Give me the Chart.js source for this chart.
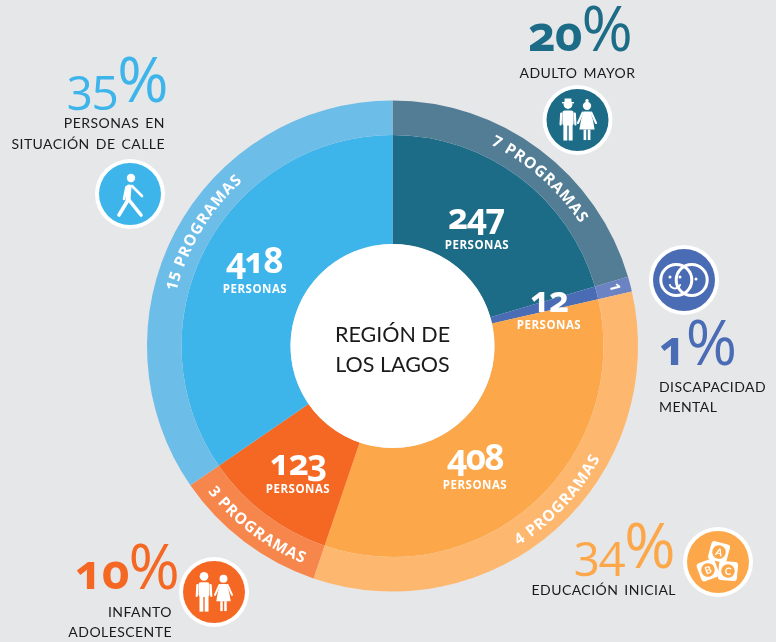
<!DOCTYPE html>
<html lang="es">
<head>
<meta charset="utf-8">
<title>Región de Los Lagos</title>
<script src="https://cdn.jsdelivr.net/npm/chart.js@4"></script>
<style>
  html, body { margin: 0; background: #e6e7e9; }
  #wrap { position: relative; width: 776px; height: 642px; overflow: hidden; }
  #chart, #labels { position: absolute; left: 0; top: 0; }
  #labels text { font-family: "Open Sans", sans-serif; font-variant-numeric: oldstyle-nums; font-feature-settings: "onum" 1; }
  #labels text.cap { font-family: Lato, sans-serif; word-spacing: 2px; }
  #labels text.title { font-family: Lato, sans-serif; }
  #labels text.lining { font-variant-numeric: lining-nums; font-feature-settings: "lnum" 1; }
</style>
</head>
<body>
<div id="wrap">
  <canvas id="chart" width="776" height="642"></canvas>
  <svg id="labels" width="776" height="642" xmlns="http://www.w3.org/2000/svg"></svg>
</div>
<script>
// Clockwise from 12 o'clock
const categories = ['Adulto mayor', 'Discapacidad mental', 'Educación inicial', 'Infanto adolescente', 'Personas en situación de calle'];
const persons = [247, 12, 408, 123, 418];
const programs = [7, 1, 4, 3, 15];
const percents = [20, 1, 34, 10, 35];
const innerColors = ['#1c6c87', '#4a6cb5', '#fca84a', '#f56824', '#3db4ea'];
const outerColors = ['#527d95', '#6b83c2', '#fdb76e', '#f6864b', '#6dbde9'];
const centerTitle = ['REGIÓN DE', 'LOS LAGOS'];

const SVG_NS = 'http://www.w3.org/2000/svg';
const svg = document.getElementById('labels');

function addText(str, x, y, opts) {
  const t = document.createElementNS(SVG_NS, 'text');
  t.setAttribute('x', x);
  t.setAttribute('y', y);
  t.setAttribute('text-anchor', opts.anchor || 'middle');
  t.setAttribute('fill', opts.color || '#1a1a1a');
  t.setAttribute('font-size', opts.size);
  t.setAttribute('font-weight', opts.weight || 400);
  if (opts.spacing) t.setAttribute('letter-spacing', opts.spacing);
  if (opts.cls) t.setAttribute('class', opts.cls);
  t.textContent = str;
  svg.appendChild(t);
  return t;
}

// number with an oversize thin percent sign after it
function addPercent(value, x, y, color, digitWeight) {
  const t = addText(String(value), x, y, {color, size: 48, weight: digitWeight, anchor: 'start', spacing: -1});
  const s = document.createElementNS(SVG_NS, 'tspan');
  s.setAttribute('font-size', 62);
  s.setAttribute('font-weight', 400);
  s.textContent = '%';
  t.appendChild(s);
}

// Arc path around the chart centre so the label follows the ring
function addCurved(str, cx, cy, r, midDeg, clockwise, id) {
  const half = 50 * Math.PI / 180;
  const mid = midDeg * Math.PI / 180;
  const a0 = clockwise ? mid - half : mid + half;
  const a1 = clockwise ? mid + half : mid - half;
  const pt = a => [cx + r * Math.sin(a), cy - r * Math.cos(a)];
  const p0 = pt(a0), p1 = pt(a1);
  const path = document.createElementNS(SVG_NS, 'path');
  path.setAttribute('id', id);
  path.setAttribute('fill', 'none');
  path.setAttribute('d', `M${p0[0]} ${p0[1]} A${r} ${r} 0 0 ${clockwise ? 1 : 0} ${p1[0]} ${p1[1]}`);
  svg.appendChild(path);
  const t = document.createElementNS(SVG_NS, 'text');
  t.setAttribute('class', 'lining');
  t.setAttribute('fill', '#fff');
  t.setAttribute('font-size', 15.5);
  t.setAttribute('font-weight', 700);
  t.setAttribute('letter-spacing', 0.9);
  t.setAttribute('text-anchor', 'middle');
  const tp = document.createElementNS(SVG_NS, 'textPath');
  tp.setAttribute('href', '#' + id);
  tp.setAttribute('startOffset', '50%');
  tp.textContent = str;
  t.appendChild(tp);
  svg.appendChild(t);
}

function buildLabels(cx, cy) {
  svg.innerHTML = '';
  addText(centerTitle[0], cx, 342, {size: 21.5, cls: 'title'});
  addText(centerTitle[1], cx, 372, {size: 21.5, cls: 'title'});

  const personPos = [[476, 229, 477, 249], [549, 312, 549, 329], [475, 470, 475, 489], [298, 475, 298, 493], [254, 273, 255, 293]];
  persons.forEach((v, i) => {
    const p = personPos[i];
    addText(String(v), p[0], p[1], {color: '#fff', size: 35, weight: 700, spacing: -1.5});
    addText('PERSONAS', p[2], p[3], {color: '#fff', size: 11.5, weight: 700, spacing: 0.5});
  });

  addCurved(`${programs[0]} PROGRAMAS`, cx, cy, 224, 41.5, true, 'c0');
  addCurved(`${programs[2]} PROGRAMAS`, cx, cy, 236, 133, false, 'c2');
  addCurved(`${programs[3]} PROGRAMAS`, cx, cy, 235, 217, false, 'c3');
  addCurved(`${programs[4]} PROGRAMAS`, cx, cy, 223, 301, true, 'c4');
  const one = addText(String(programs[1]), 615, 292, {color: '#fff', size: 14, weight: 700, cls: 'lining'});
  one.setAttribute('transform', 'rotate(75 615 287)');

  addPercent(percents[0], 528, 51, innerColors[0], 700);
  addPercent(percents[1], 659, 365, innerColors[1], 700);
  addPercent(percents[2], 574, 568, innerColors[2], 400);
  addPercent(percents[3], 75, 589, innerColors[3], 700);
  addPercent(percents[4], 67, 102, innerColors[4], 400);

  const cap = {size: 14, spacing: 0.45, cls: 'cap'};
  addText('ADULTO MAYOR', 577.5, 78, cap);
  addText('PERSONAS EN', 165, 128, {...cap, anchor: 'end'});
  addText('SITUACIÓN DE CALLE', 165, 149, {...cap, anchor: 'end'});
  addText('DISCAPACIDAD', 659, 392, {...cap, anchor: 'start'});
  addText('MENTAL', 659, 412, {...cap, anchor: 'start'});
  addText('EDUCACIÓN INICIAL', 676, 595, {...cap, anchor: 'end'});
  addText('INFANTO', 172, 617, {...cap, anchor: 'end'});
  addText('ADOLESCENTE', 172, 637, {...cap, anchor: 'end'});
}

function badge(ctx, x, y, color) {
  ctx.fillStyle = '#fff';
  ctx.beginPath(); ctx.arc(x, y, 35, 0, Math.PI * 2); ctx.fill();
  ctx.fillStyle = color;
  ctx.beginPath(); ctx.arc(x, y, 31, 0, Math.PI * 2); ctx.fill();
}

// Standing figure, dress=true gives the skirt version
function figure(ctx, x, y, s, dress, extra) {
  ctx.save();
  ctx.translate(x, y);
  ctx.scale(s, s);
  ctx.fillStyle = '#fff';
  ctx.strokeStyle = '#fff';
  ctx.lineCap = 'round';
  ctx.beginPath(); ctx.arc(0, -17, 4.4, 0, Math.PI * 2); ctx.fill();
  if (extra === 'hat') {
    ctx.fillRect(-6, -19.5, 12, 1.4);
    ctx.fillRect(-3.4, -23, 6.8, 4);
  } else if (extra === 'bun') {
    ctx.beginPath(); ctx.arc(0, -22.3, 1.8, 0, Math.PI * 2); ctx.fill();
  }
  ctx.lineWidth = 2.2;
  ctx.beginPath();
  if (dress) {
    ctx.moveTo(-4.5, -10); ctx.lineTo(-9.5, 1);
    ctx.moveTo(4.5, -10); ctx.lineTo(9.5, 1);
    ctx.stroke();
    ctx.beginPath();
    ctx.moveTo(-3.5, -11); ctx.lineTo(3.5, -11);
    ctx.quadraticCurveTo(7, -2, 8, 8);
    ctx.lineTo(-8, 8);
    ctx.quadraticCurveTo(-7, -2, -3.5, -11);
    ctx.closePath(); ctx.fill();
    ctx.fillRect(-3.6, 8, 2.8, 11);
    ctx.fillRect(0.8, 8, 2.8, 11);
  } else {
    ctx.moveTo(-6.8, -8); ctx.lineTo(-7.4, 3);
    ctx.moveTo(6.8, -8); ctx.lineTo(7.4, 3);
    ctx.stroke();
    ctx.beginPath();
    ctx.roundRect(-5.6, -11, 11.2, 15, 2.5);
    ctx.fill();
    ctx.fillRect(-4.6, 3, 3.9, 16);
    ctx.fillRect(0.7, 3, 3.9, 16);
  }
  ctx.restore();
}

function drawWalker(ctx, x, y) {
  ctx.save();
  ctx.translate(x, y);
  ctx.fillStyle = '#fff';
  ctx.strokeStyle = '#fff';
  ctx.lineCap = 'round';
  ctx.lineJoin = 'round';
  ctx.beginPath(); ctx.arc(1, -19, 4.2, 0, Math.PI * 2); ctx.fill();
  ctx.lineWidth = 5;
  ctx.beginPath(); ctx.moveTo(-1, -10); ctx.lineTo(-2, 3); ctx.stroke();
  ctx.lineWidth = 2.6;
  ctx.beginPath(); ctx.moveTo(2, -11); ctx.lineTo(12, -1); ctx.stroke();
  ctx.beginPath(); ctx.moveTo(-3.5, -10); ctx.lineTo(-6, 2); ctx.stroke();
  ctx.lineWidth = 3.6;
  ctx.beginPath(); ctx.moveTo(-2, 3); ctx.lineTo(-11, 18); ctx.stroke();
  ctx.beginPath(); ctx.moveTo(-1, 3); ctx.lineTo(11, 18); ctx.stroke();
  ctx.restore();
}

function drawFaces(ctx, x, y) {
  ctx.save();
  ctx.translate(x, y);
  ctx.strokeStyle = '#fff';
  ctx.fillStyle = '#fff';
  ctx.lineWidth = 3;
  ctx.beginPath(); ctx.arc(-7.7, 0, 15.5, 0, Math.PI * 2); ctx.stroke();
  ctx.beginPath(); ctx.arc(7.7, 0, 15.5, 0, Math.PI * 2); ctx.stroke();
  [[-14, -3], [-4, -3], [12, -1]].forEach(d => {
    ctx.beginPath(); ctx.arc(d[0], d[1], 1.5, 0, Math.PI * 2); ctx.fill();
  });
  ctx.lineWidth = 1.8;
  ctx.beginPath(); ctx.arc(-9, 3, 5.5, 0.2, Math.PI - 0.2); ctx.stroke();
  ctx.restore();
}

function drawBlocks(ctx, x, y, color) {
  const blocks = [['A', 1, -10, 15], ['B', -10, 8, -20], ['C', 10, 9, 5]];
  blocks.forEach(b => {
    ctx.save();
    ctx.translate(x + b[1], y + b[2]);
    ctx.rotate(b[3] * Math.PI / 180);
    ctx.fillStyle = '#fff';
    ctx.beginPath(); ctx.roundRect(-9.5, -9.5, 19, 19, 3); ctx.fill();
    ctx.fillStyle = color;
    ctx.beginPath(); ctx.arc(0, 0, 6.8, 0, Math.PI * 2); ctx.fill();
    ctx.fillStyle = '#fff';
    ctx.font = '700 10px Lato, sans-serif';
    ctx.textAlign = 'center';
    ctx.textBaseline = 'middle';
    ctx.fillText(b[0], 0, 0.5);
    ctx.restore();
  });
}

const decorations = {
  id: 'decorations',
  // white disc sits inside the hole, the badges around the ring
  afterDatasetsDraw(chart) {
    const ctx = chart.ctx;
    const arc = chart.getDatasetMeta(1).data[0];
    ctx.save();
    ctx.fillStyle = '#fff';
    ctx.beginPath(); ctx.arc(arc.x, arc.y, arc.innerRadius, 0, Math.PI * 2); ctx.fill();

    badge(ctx, 577.5, 120, innerColors[0]);
    figure(ctx, 568, 121.5, 1, false, 'hat');
    figure(ctx, 587, 122, 0.95, true, 'bun');
    badge(ctx, 684, 280, innerColors[1]);
    drawFaces(ctx, 684, 280);
    badge(ctx, 718, 562, innerColors[2]);
    drawBlocks(ctx, 718, 562, innerColors[2]);
    badge(ctx, 214, 592, innerColors[3]);
    figure(ctx, 204, 593, 0.98, false);
    figure(ctx, 223.5, 594, 0.9, true);
    badge(ctx, 130, 194, innerColors[4]);
    drawWalker(ctx, 130, 197);
    ctx.restore();
    buildLabels(arc.x, arc.y);
  }
};

new Chart(document.getElementById('chart'), {
  type: 'doughnut',
  data: {
    labels: categories,
    datasets: [
      // outer ring keeps the same angles as the persons ring
      { data: persons, backgroundColor: outerColors, borderWidth: 0, weight: 34.5 },
      { data: persons, backgroundColor: innerColors, borderWidth: 0, weight: 109 }
    ]
  },
  plugins: [decorations],
  options: {
    responsive: false,
    animation: false,
    events: [],
    cutout: 102,
    layout: { padding: { left: 147, right: 138, top: 100.5, bottom: 50.5 } },
    plugins: { legend: { display: false }, tooltip: { enabled: false } }
  }
});
</script>
</body>
</html>
